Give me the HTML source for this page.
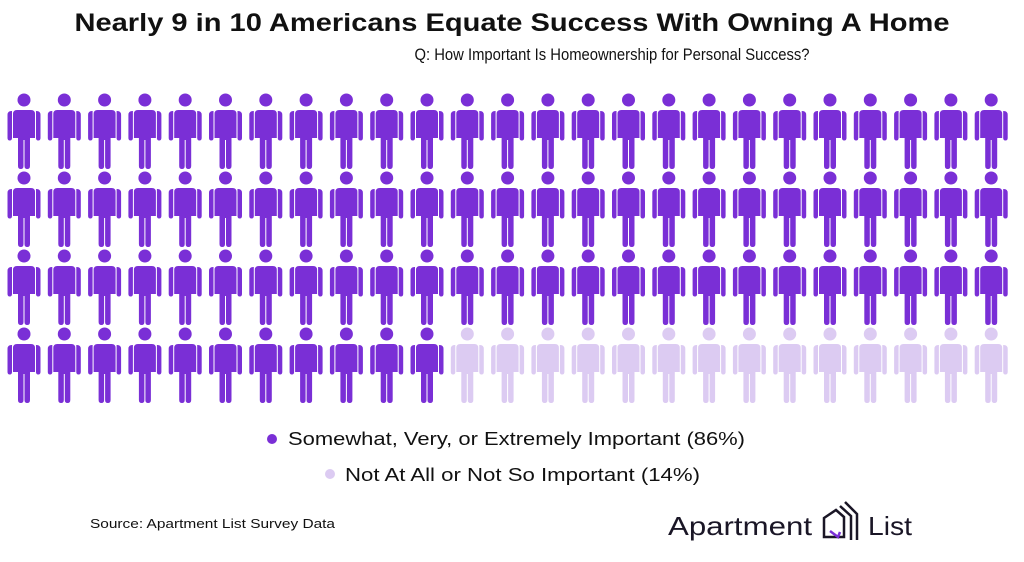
<!DOCTYPE html>
<html><head><meta charset="utf-8"><style>
body{margin:0;background:#fff;width:1024px;height:562px;overflow:hidden;font-family:"Liberation Sans",sans-serif;color:#111;}
svg{display:block}
</style></head><body>
<svg width="1024" height="562">
<text x="512" y="31" text-anchor="middle" font-size="25" font-weight="bold" fill="#111" textLength="875" lengthAdjust="spacingAndGlyphs">Nearly 9 in 10 Americans Equate Success With Owning A Home</text>
<text x="612" y="60" text-anchor="middle" font-size="17" fill="#111" textLength="395" lengthAdjust="spacingAndGlyphs">Q: How Important Is Homeownership for Personal Success?</text>
<g id="grid"></g>
<circle cx="272" cy="439" r="5" fill="#7a2fd6"/>
<text x="288" y="445" font-size="18" fill="#111" textLength="457" lengthAdjust="spacingAndGlyphs">Somewhat, Very, or Extremely Important (86%)</text>
<circle cx="330" cy="474" r="5" fill="#dccbf2"/>
<text x="345" y="481" font-size="18" fill="#111" textLength="355" lengthAdjust="spacingAndGlyphs">Not At All or Not So Important (14%)</text>
<text x="90" y="528" font-size="13" fill="#111" textLength="245" lengthAdjust="spacingAndGlyphs">Source: Apartment List Survey Data</text>
<g>
<text x="668" y="535" font-size="26" fill="#1a1626" textLength="144" lengthAdjust="spacingAndGlyphs">Apartment</text>
<g fill="none" stroke-width="2.5" stroke-linejoin="miter">
<path d="M824 537 L824 518 L836 510 L844 517 L844 537 Z" stroke="#1a1626"/>
<path d="M830 531 L838 537 L840 532" stroke="#7a2fd6"/>
<path d="M840 506 L851 516 L851 540" stroke="#1a1626"/>
<path d="M845 502 L857 514 L857 540" stroke="#1a1626"/>
</g>
<text x="868" y="535" font-size="26" fill="#1a1626" textLength="44" lengthAdjust="spacingAndGlyphs">List</text>
</g>
</svg>
<script>
const categories = ["Somewhat, Very, or Extremely Important", "Not At All or Not So Important"];
const percentValues = [86, 14];
const colors = ["#7a2fd6", "#dccbf2"];
const cols = 25, rows = 4;
const xPos = i => 24 + i * 40.3;
const yPos = r => 100 + r * 78;
const g = document.getElementById('grid');
const NS = 'http://www.w3.org/2000/svg';
const bodyPath = "M-11,14 Q-11,10 -7,10 L7,10 Q11,10 11,14 L11,38 L6,38 L6,66 Q6,69 3.2,69 Q0.5,69 0.5,66 L0.5,40 L-0.5,40 L-0.5,66 Q-0.5,69 -3.2,69 Q-6,69 -6,66 L-6,38 L-11,38 Z M-16.5,15 Q-16.5,11 -12.5,11 L-12,11 L-12,38 Q-12,40.5 -14.2,40.5 Q-16.5,40.5 -16.5,38 Z M16.5,15 Q16.5,11 12.5,11 L12,11 L12,38 Q12,40.5 14.2,40.5 Q16.5,40.5 16.5,38 Z";
let k = 0;
for (let r = 0; r < rows; r++) {
  for (let c = 0; c < cols; c++) {
    const cat = k < percentValues[0] ? 0 : 1;
    const p = document.createElementNS(NS, 'g');
    p.setAttribute('transform', `translate(${xPos(c)},${yPos(r)})`);
    p.setAttribute('fill', colors[cat]);
    
    
    const h = document.createElementNS(NS, 'circle');
    h.setAttribute('r', '6.5');
    const b = document.createElementNS(NS, 'path');
    b.setAttribute('d', bodyPath);
    p.appendChild(h); p.appendChild(b);
    g.appendChild(p);
    k++;
  }
}
</script>
</body></html>
